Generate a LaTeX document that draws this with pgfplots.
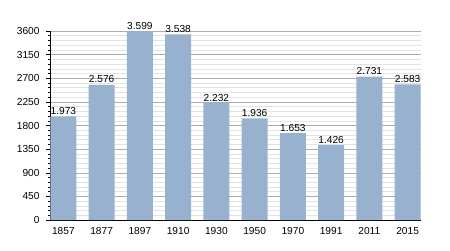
\documentclass[border=0pt]{standalone}
\usepackage{pgfplots}
\pgfplotsset{compat=1.18}
\usepackage{pgfplotstable}
\usepackage{fontspec}
\setmainfont{Liberation Sans}
\definecolor{barblue}{HTML}{97B1CF}
\pgfplotstableread{
x y lab
0 1973 1.973
1 2576 2.576
2 3599 3.599
3 3538 3.538
4 2232 2.232
5 1936 1.936
6 1653 1.653
7 1426 1.426
8 2731 2.731
9 2583 2.583
}\data
\begin{document}
\begin{tikzpicture}[x=1bp,y=1bp]
\useasboundingbox (0,0) rectangle (450,250);
\begin{axis}[
  at={(50bp,30bp)}, anchor=south west,
  scale only axis, width=371bp, height=189bp,
  xmin=-0.35, xmax=9.35, ymin=0, ymax=3600,
  axis x line*=bottom, axis y line*=left,
  axis line style={black, line width=0.8pt},
  xtick=data,
  xticklabels={1857,1877,1897,1910,1930,1950,1970,1991,2011,2015},
  x tick style={draw=none},
  ytick={0,450,...,3600},
  minor y tick num=4,
  y tick style={black, line width=0.5pt},
  major tick length=4bp, minor tick length=2bp,
  tick align=outside,
  ymajorgrids, yminorgrids,
  major grid style={draw=gray!65, line width=0.5pt},
  minor grid style={draw=gray!22, line width=0.5pt},
  /pgf/number format/1000 sep={},
  /pgf/number format/assume math mode=true,
  tick label style={font=\fontsize{10.2}{12}\selectfont},
  xticklabel style={yshift=0bp},
  yticklabel style={xshift=-3bp},
  ybar, bar width=0.68, bar shift=0,
  nodes near coords,
  point meta=explicit symbolic,
  every node near coord/.append style={font=\fontsize{10.2}{12}\selectfont, inner sep=1.5bp},
  clip=false,
]
\addplot[fill=barblue, draw=none] table[x=x, y=y, meta=lab] {\data};
\end{axis}
\end{tikzpicture}
\end{document}
